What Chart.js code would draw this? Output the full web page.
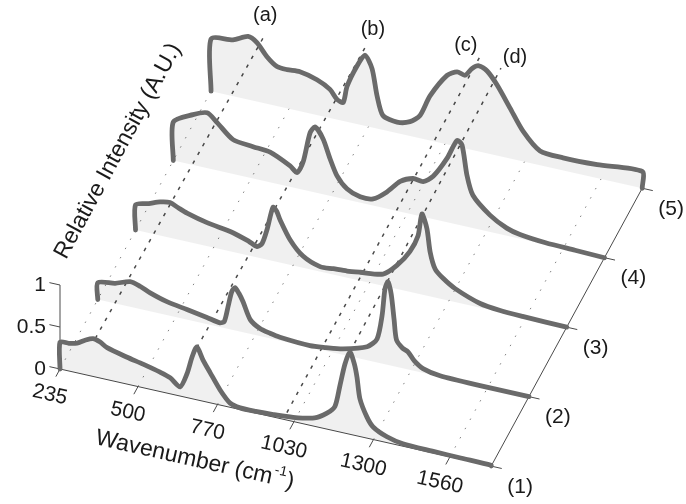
<!DOCTYPE html>
<html>
<head>
<meta charset="utf-8">
<title>Spectra waterfall</title>
<script src="https://cdn.jsdelivr.net/npm/chart.js@4.4.1/dist/chart.umd.min.js"></script>
<style>
    html, body { margin: 0; padding: 0; background: #fff; }
    #wrap { width: 686px; height: 504px; }
</style>
</head>
<body>
<div id="wrap"><canvas id="waterfall" width="686" height="504"></canvas></div>
<script>
// --- Data ---
const seriesLabels = ['(1)', '(2)', '(3)', '(4)', '(5)'];
const wnTicks = [235, 500, 770, 1030, 1300, 1560];
const intensityTicks = [0, 0.5, 1];
const wnRange = [235, 1700];

// spectrum (1), front
const wn1 = [235, 265, 293, 320, 347, 370, 395, 463, 517, 575, 610, 643, 667, 684, 700, 721, 745, 779, 813, 847, 900, 960, 1027, 1100, 1142, 1169, 1186, 1203, 1220, 1235, 1244, 1254, 1278, 1299, 1346, 1400, 1500, 1600, 1700];
const int1 = [0.32, 0.33, 0.355, 0.41, 0.45, 0.43, 0.38, 0.32, 0.28, 0.23, 0.19, 0.11, 0.29, 0.50, 0.63, 0.49, 0.36, 0.18, 0.05, 0.02, 0.02, 0.03, 0.05, 0.10, 0.19, 0.29, 0.55, 0.82, 0.98, 0.85, 0.70, 0.45, 0.25, 0.15, 0.07, 0.03, 0.02, 0.015, 0.01];

// spectrum (2)
const wn2 = [235, 294, 345, 380, 413, 470, 538, 606, 650, 665, 678, 690, 701, 715, 729, 753, 786, 820, 854, 956, 1010, 1068, 1150, 1184, 1201, 1211, 1221, 1232, 1242, 1250, 1270, 1289, 1310, 1340, 1398, 1534, 1700];
const int2 = [0.20, 0.24, 0.30, 0.27, 0.22, 0.16, 0.12, 0.08, 0.05, 0.08, 0.27, 0.45, 0.51, 0.45, 0.36, 0.17, 0.09, 0.06, 0.04, 0.02, 0.04, 0.07, 0.16, 0.28, 0.57, 0.90, 0.99, 0.85, 0.55, 0.32, 0.24, 0.21, 0.12, 0.05, 0.01, 0.0, 0.0];

// spectrum (3)
const wn3 = [235, 280, 318, 352, 380, 410, 478, 566, 620, 648, 665, 682, 702, 715, 726, 760, 804, 862, 907, 954, 998, 1076, 1123, 1167, 1195, 1208, 1225, 1236, 1253, 1280, 1321, 1406, 1474, 1550, 1700];
const int3 = [0.30, 0.35, 0.40, 0.42, 0.38, 0.34, 0.28, 0.23, 0.17, 0.13, 0.18, 0.36, 0.64, 0.60, 0.51, 0.30, 0.14, 0.06, 0.07, 0.08, 0.10, 0.14, 0.28, 0.48, 0.69, 0.96, 0.80, 0.53, 0.34, 0.25, 0.16, 0.05, 0.02, 0.01, 0.0];

// spectrum (4)
const wn4 = [235, 302, 350, 384, 438, 506, 564, 632, 656, 676, 700, 717, 744, 768, 791, 825, 870, 914, 961, 1006, 1050, 1084, 1118, 1165, 1199, 1216, 1233, 1253, 1311, 1368, 1413, 1500, 1600, 1700];
const int4 = [0.46, 0.60, 0.66, 0.57, 0.41, 0.38, 0.36, 0.25, 0.19, 0.33, 0.70, 0.78, 0.66, 0.44, 0.26, 0.13, 0.07, 0.08, 0.20, 0.36, 0.43, 0.42, 0.51, 0.76, 1.0, 0.96, 0.61, 0.39, 0.20, 0.09, 0.05, 0.02, 0.01, 0.0];

// spectrum (5), back
const wn5 = [235, 310, 361, 391, 425, 459, 493, 537, 595, 639, 663, 684, 697, 731, 758, 782, 799, 819, 867, 911, 945, 979, 1037, 1071, 1098, 1122, 1145, 1173, 1207, 1251, 1295, 1353, 1431, 1547, 1700];
const int5 = [0.62, 0.67, 0.75, 0.70, 0.56, 0.47, 0.46, 0.47, 0.42, 0.34, 0.24, 0.22, 0.42, 0.69, 0.84, 0.70, 0.39, 0.17, 0.13, 0.17, 0.27, 0.53, 0.82, 0.89, 0.87, 0.97, 1.02, 0.98, 0.84, 0.60, 0.36, 0.17, 0.15, 0.16, 0.20];

// peak marker lines (a)-(d): wavenumber, height at front and far end, far depth
const peakLabels = ['(a)', '(b)', '(c)', '(d)'];
const peakWn = [355, 700, 1006, 1220];
const peakStartHeight = [0.46, 0.62, 0.09, 0.98];
const peakEndHeight = [0.36, 0.51, 0.10, 1.05];
const peakEndDepth = [4.5, 4.45, 5.11, 4.0];

// --- View (oblique projection of wavenumber / series / intensity) ---
const DEPTH_DX = 128.3;       // cm-1 units shifted per series step back
const DEPTH_DY = 0.827;       // intensity units raised per series step back
const FLOOR_TILT = 0.000789;  // floor drop per cm-1
const X_MIN = 31.1, X_MAX = 2362;
const Y_MIN = -1.607, Y_MAX = 4.393;
const FONT = "'Liberation Sans', Arial, Helvetica, sans-serif";

function project(wn, val, depth) {
    return {
        x: wn + depth * DEPTH_DX,
        y: val + depth * DEPTH_DY - (wn - wnRange[0]) * FLOOR_TILT
    };
}

const spectra = [[wn1, int1], [wn2, int2], [wn3, int3], [wn4, int4], [wn5, int5]];
const lastSeries = spectra.length - 1;

const datasets = spectra.map(([wn, val], k) => {
    const pts = wn.map((w, i) => project(w, val[i], k));
    pts.unshift(project(wn[0], 0, k));                 // vertical edge at start
    pts.push(project(wn[wn.length - 1], 0, k));        // and at the end
    return {
        label: seriesLabels[k],
        data: pts,
        borderColor: '#6a6a6a',
        borderWidth: 4.8,
        backgroundColor: 'rgba(0,0,0,0.06)',
        fill: 'shape',
        tension: 0.25,
        pointRadius: 0,
        borderJoinStyle: 'round',
        borderCapStyle: 'round',
        order: k
    };
});

peakLabels.forEach((lab, i) => {
    datasets.push({
        label: lab,
        data: [project(peakWn[i], peakStartHeight[i], 0), project(peakWn[i], peakEndHeight[i], peakEndDepth[i])],
        borderColor: '#4a4a4a',
        borderWidth: 1.5,
        borderDash: [3.5, 6.5],
        fill: false,
        pointRadius: 0,
        tension: 0,
        order: 20
    });
});

// --- Axes, grid and labels drawn around the scales ---
const waterfallAxes = {
    id: 'waterfallAxes',
    beforeDatasetsDraw(chart) {
        const {ctx} = chart;
        const toPx = p => ({ x: chart.scales.x.getPixelForValue(p.x), y: chart.scales.y.getPixelForValue(p.y) });
        const seg = (a, b) => {
            const p = toPx(a), q = toPx(b);
            ctx.beginPath(); ctx.moveTo(p.x, p.y); ctx.lineTo(q.x, q.y); ctx.stroke();
        };
        ctx.save();
        // floor grid, dotted
        ctx.strokeStyle = '#808080';
        ctx.lineWidth = 1;
        ctx.setLineDash([1.5, 9]);
        wnTicks.forEach(w => seg(project(w, 0, 0), project(w, 0, lastSeries)));
        ctx.setLineDash([]);
        // axis lines
        ctx.strokeStyle = '#4a4a4a';
        seg(project(wnRange[0], 0, 0), project(wnRange[1], 0, 0));
        seg(project(wnRange[0], 0, 0), project(wnRange[0], 1, 0));
        seg(project(wnRange[1], 0, 0), project(wnRange[1], 0, lastSeries));
        // ticks
        wnTicks.forEach(w => seg(project(w, 0, 0), project(w, 0, -0.11)));
        intensityTicks.forEach(v => seg(project(wnRange[0], v, 0), project(wnRange[0] - 36, v, 0)));
        seriesLabels.forEach((s, k) => seg(project(wnRange[1], 0, k), project(wnRange[1] + 36, 0, k)));
        ctx.restore();
    },
    afterDraw(chart) {
        const {ctx} = chart;
        const toPx = p => ({ x: chart.scales.x.getPixelForValue(p.x), y: chart.scales.y.getPixelForValue(p.y) });
        const a0 = toPx(project(wnRange[0], 0, 0)), a1 = toPx(project(wnRange[1], 0, 0));
        const d1 = toPx(project(wnRange[0], 0, 1));
        const floorAng = Math.atan2(a1.y - a0.y, a1.x - a0.x);
        const depthAng = Math.atan2(d1.y - a0.y, d1.x - a0.x);

        ctx.save();
        ctx.fillStyle = '#1a1a1a';
        ctx.textAlign = 'center';
        ctx.textBaseline = 'middle';

        // wavenumber tick labels
        ctx.font = '21px ' + FONT;
        wnTicks.forEach(w => {
            const p = toPx(project(w + 12, 0, -0.36));
            ctx.save(); ctx.translate(p.x, p.y); ctx.rotate(floorAng);
            ctx.fillText(String(w), 0, 0);
            ctx.restore();
        });

        // intensity tick labels
        ctx.textAlign = 'right';
        intensityTicks.forEach(v => {
            const p = toPx(project(wnRange[0], v, 0));
            ctx.fillText(String(v), p.x - 14, p.y);
        });

        // series labels on the depth axis
        ctx.textAlign = 'center';
        seriesLabels.forEach((s, k) => {
            const p = toPx(project(wnRange[1], 0, k));
            ctx.fillText(s, p.x + 29, p.y + 21);
        });

        // peak labels
        ctx.font = '20px ' + FONT;
        const peakNudge = [[0, -19], [8, -18], [-14, -11], [14, -11]];
        peakLabels.forEach((lab, i) => {
            const p = toPx(project(peakWn[i], peakEndHeight[i], peakEndDepth[i]));
            ctx.fillText(lab, p.x + peakNudge[i][0], p.y + peakNudge[i][1]);
        });

        // x axis title with superscript
        const t = toPx(project(790, 0, -0.78));
        ctx.save();
        ctx.translate(t.x, t.y);
        ctx.rotate(floorAng);
        const big = '23px ' + FONT, small = '14px ' + FONT;
        ctx.font = big;
        const partA = 'Wavenumber (cm', partC = ')';
        const wA = ctx.measureText(partA).width, wC = ctx.measureText(partC).width;
        ctx.font = small;
        const wB = ctx.measureText('-1').width;
        const x0 = -(wA + wB + wC) / 2;
        ctx.textAlign = 'left';
        ctx.font = big;
        ctx.fillText(partA, x0, 0);
        ctx.font = small;
        ctx.fillText('-1', x0 + wA + 1, -8);
        ctx.font = big;
        ctx.fillText(partC, x0 + wA + wB + 2, 0);
        ctx.restore();

        // intensity axis title along the depth direction
        const yt = toPx(project(wnRange[0], 0.5, 0));
        ctx.save();
        ctx.translate(yt.x + 58, yt.y - 176);
        ctx.rotate(depthAng);
        ctx.font = '23px ' + FONT;
        ctx.textAlign = 'center';
        ctx.fillText('Relative Intensity (A.U.)', 0, 0);
        ctx.restore();

        ctx.restore();
    }
};

new Chart(document.getElementById('waterfall'), {
    type: 'line',
    data: { datasets: datasets },
    options: {
        responsive: false,
        animation: false,
        events: [],
        layout: { padding: 0 },
        plugins: {
            legend: { display: false },
            tooltip: { enabled: false }
        },
        scales: {
            x: { type: 'linear', display: false, min: X_MIN, max: X_MAX },
            y: { type: 'linear', display: false, min: Y_MIN, max: Y_MAX }
        }
    },
    plugins: [waterfallAxes]
});
</script>
</body>
</html>
